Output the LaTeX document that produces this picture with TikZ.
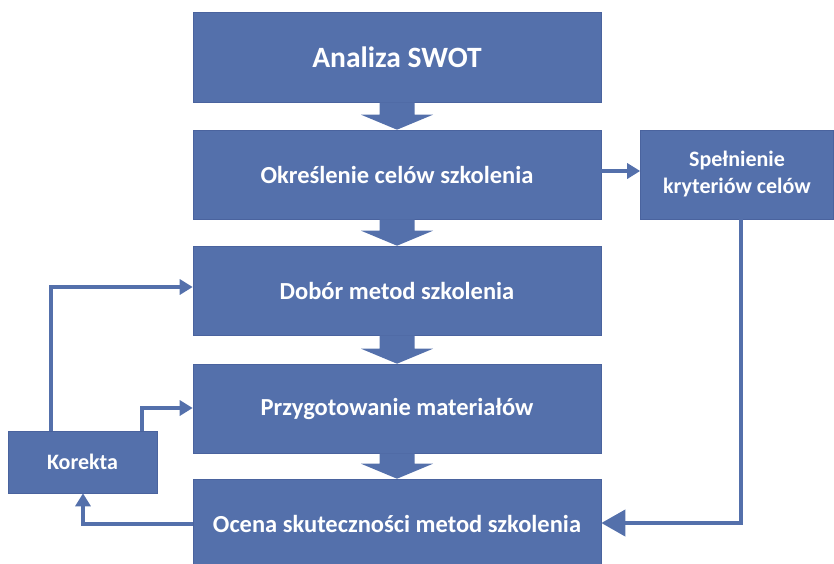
\documentclass[tikz,border=0pt]{standalone}
\usepackage{fontspec}
\setmainfont{Carlito}
\usetikzlibrary{arrows.meta,calc}
\definecolor{boxblue}{RGB}{84,112,171}
\definecolor{boxedge}{RGB}{74,99,158}
\tikzset{
  stage/.style={rectangle, fill=boxblue, draw=boxedge, line width=0.6pt,
    text=white, font=\bfseries\fontsize{24.5}{29}\selectfont, align=center,
    inner sep=0pt},
  sidestage/.style={stage, font=\bfseries\fontsize{22}{27}\selectfont},
  blockarrow/.style={fill=boxblue, draw=none},
  link/.style={draw=boxblue, line width=4pt,
    -{Triangle[length=13pt,width=15pt]}},
  biglink/.style={draw=boxblue, line width=4pt,
    -{Triangle[length=24pt,width=26pt]}},
}
\begin{document}
\begin{tikzpicture}[x=1pt,y=-1pt]
\useasboundingbox (0,0) rectangle (834,563);
\begin{scope}
\clip (0,0) rectangle (834,563);
% main column
\node[stage, minimum width=408pt, minimum height=90pt,
  font=\bfseries\fontsize{29.5}{34}\selectfont] (swot) at (397,57) {Analiza SWOT};
\node[stage, minimum width=408pt, minimum height=89pt] (cel) at (397,174.5) {Określenie celów szkolenia};
\node[stage, minimum width=408pt, minimum height=89pt] (dob) at (397,290.5) {Dobór metod szkolenia};
\node[stage, minimum width=408pt, minimum height=89pt] (prz) at (397,408.5) {Przygotowanie materiałów};
\node[stage, minimum width=408pt, minimum height=89pt] (oce) at (397,523.5) {Ocena skuteczności metod szkolenia};
% side boxes
\node[sidestage, minimum width=193pt, minimum height=89pt]
  (spe) at (737,174.5) {Spełnienie\\kryteriów celów};
\node[sidestage, minimum width=149pt, minimum height=62pt]
  (kor) at (82.5,462) {Korekta};
\end{scope}
% block arrows between stages
\foreach \a/\b in {swot/cel, cel/dob, dob/prz, prz/oce}{
  \path[blockarrow]
    ($(\a.south)+(-17.5,0)$) -- ($(\a.south)+(17.5,0)$)
    -- ($(\b.north)+(17.5,-15)$) -- ($(\b.north)+(36,-15)$)
    -- (\b.north)
    -- ($(\b.north)+(-36,-15)$) -- ($(\b.north)+(-17.5,-15)$) -- cycle;
}
% connectors
\draw[link] (cel.east |- 0,171) -- (spe.west |- 0,171);
\coordinate (spedown) at (741,523);
\draw[biglink] (spe.south -| spedown) -- (spedown) -- (oce.east |- spedown);
\coordinate (korup) at (51,287);
\draw[link] (kor.north -| korup) -- (korup) -- (dob.west |- korup);
\coordinate (korup2) at (142,408);
\draw[link] (kor.north -| korup2) -- (korup2) -- (prz.west |- korup2);
\coordinate (korin) at (83,524);
\draw[link] (oce.west |- korin) -- (korin) -- (kor.south -| korin);
\end{tikzpicture}
\end{document}
